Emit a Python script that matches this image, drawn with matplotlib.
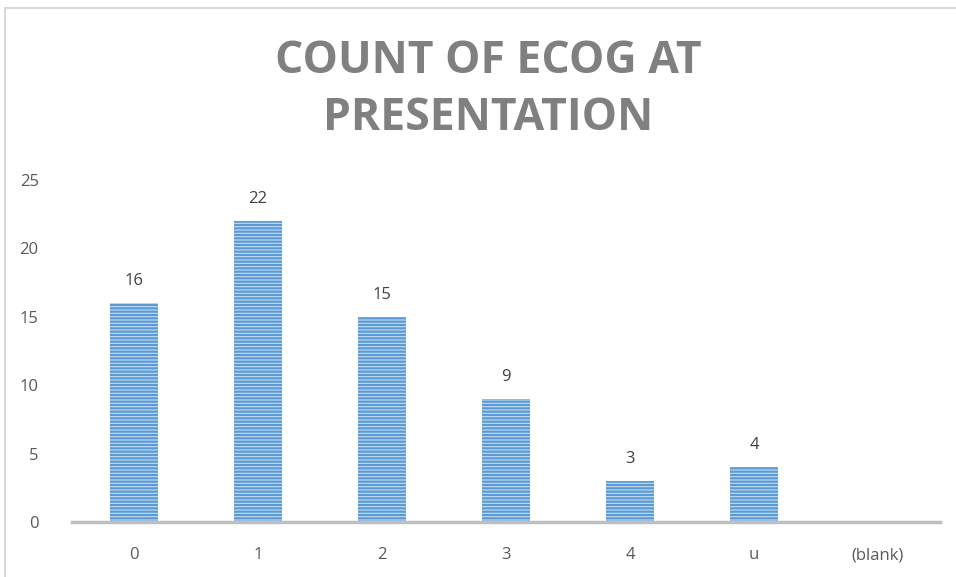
import matplotlib
matplotlib.use("Agg")
import matplotlib.pyplot as plt
from matplotlib.patches import Rectangle

categories = ["0", "1", "2", "3", "4", "u", "(blank)"]
counts = [16, 22, 15, 9, 3, 4, 0]
yticks = [0, 5, 10, 15, 20, 25]
title = "COUNT OF ECOG AT\nPRESENTATION"

plt.rcParams['font.family'] = ['Open Sans', 'DejaVu Sans']
plt.rcParams['hatch.linewidth'] = 1.6

fig = plt.figure(figsize=(9.56, 5.77), dpi=100)
ax = fig.add_axes([72/956, (577-522)/577, (940-72)/956, (522-180)/577])

x = list(range(len(categories)))
bars = ax.bar(x, counts, width=0.38, color='#c5dcf2', edgecolor='#5b9bd5',
              hatch='-----', linewidth=0)
for xi, v in zip(x, counts):
    if v > 0:
        ax.annotate(str(v), (xi, v), xytext=(0, 10), textcoords='offset points',
                    ha='center', va='bottom', fontsize=12, color='#404040')

ax.set_xlim(-0.5, len(categories) - 0.5)
ax.set_ylim(0, 25)
ax.set_yticks(yticks)
ax.set_xticks(x)
ax.set_xticklabels(categories)
ax.tick_params(axis='both', length=0, labelsize=12, colors='#595959')
ax.tick_params(axis='x', pad=18)
ax.tick_params(axis='y', pad=24)
for s in ['top', 'right', 'left']:
    ax.spines[s].set_visible(False)
ax.spines['bottom'].set_color('#bfbfbf')
ax.spines['bottom'].set_linewidth(2.5)

fig.text(488/956, 1 - 90/577, title, ha='center', va='center', fontsize=32,
         fontweight='bold', color='#808080', linespacing=1.35)

fig.patches.append(Rectangle((5/956, -0.1), 1.2, (577-8)/577 + 0.1, transform=fig.transFigure,
                             fill=False, edgecolor='#d9d9d9', linewidth=1.5))

fig.savefig("out.png", dpi=100)
